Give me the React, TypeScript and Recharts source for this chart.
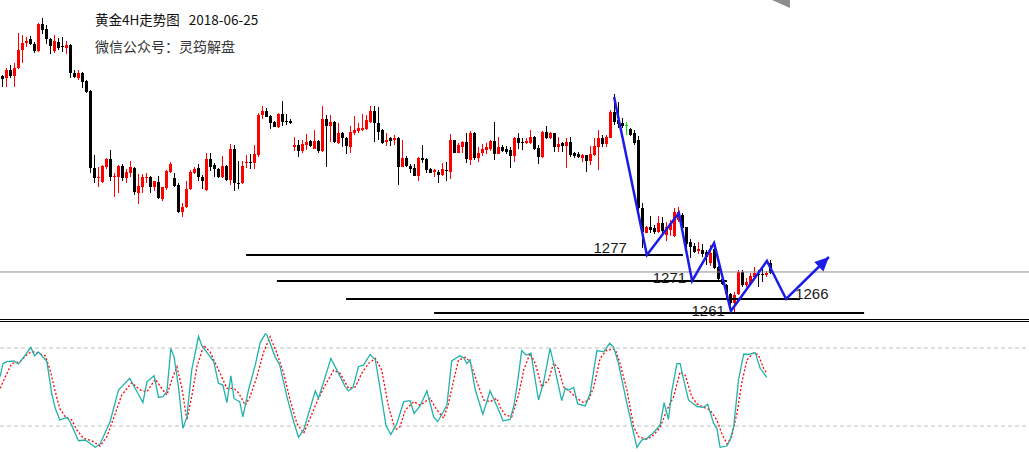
import React from 'react';
import { ComposedChart, LineChart, Bar, Line, XAxis, YAxis, ReferenceLine, ReferenceDot } from 'recharts';

// ---------- candle data (4H gold) ----------
const candleOpen = [
  1313.1, 1312.6, 1314.4, 1313.2, 1314.8, 1319.0, 1320.4, 1321.3, 1320.2, 1318.7,
  1324.7, 1323.5, 1321.3, 1318.7, 1320.7, 1319.8, 1319.4, 1320.0, 1313.8, 1312.6,
  1313.8, 1312.0, 1309.8, 1292.6, 1290.4, 1289.6, 1292.8, 1294.6, 1290.7, 1290.7,
  1293.1, 1290.4, 1291.5, 1292.6, 1287.2, 1288.5, 1290.4, 1290.7, 1288.4, 1289.6,
  1285.7, 1288.2, 1291.8, 1290.4, 1288.9, 1283.0, 1283.9, 1287.9, 1291.6, 1292.6,
  1290.6, 1287.8, 1294.6, 1293.3, 1292.4, 1290.7, 1293.1, 1290.0, 1297.0, 1289.4,
  1289.3, 1293.7, 1294.1, 1293.8, 1295.6, 1304.4, 1305.4, 1304.2, 1303.0, 1301.8,
  1304.7, 1303.2, 1303.2, 1297.3, 1297.8, 1296.5, 1297.8, 1298.7, 1297.0, 1298.7,
  1296.5, 1303.5, 1302.0, 1303.0, 1298.3, 1300.5, 1299.3, 1297.4, 1300.5, 1301.0,
  1301.1, 1301.3, 1303.0, 1305.4, 1302.6, 1301.1, 1298.5, 1299.3, 1299.0, 1299.3,
  1293.0, 1294.8, 1293.1, 1292.6, 1290.9, 1294.8, 1294.6, 1292.4, 1291.8, 1291.8,
  1291.1, 1292.2, 1291.8, 1298.9, 1296.1, 1297.4, 1298.5, 1294.4, 1300.5, 1294.8,
  1296.1, 1296.7, 1297.0, 1298.7, 1295.8, 1297.4, 1296.9, 1296.7, 1295.4, 1299.3,
  1298.5, 1298.2, 1298.2, 1299.6, 1297.2, 1295.2, 1300.7, 1299.4, 1300.4, 1297.4,
  1298.2, 1297.6, 1298.5, 1295.9, 1295.7, 1295.0, 1295.6, 1294.2, 1295.6, 1297.4,
  1299.4, 1297.9, 1299.4, 1305.1, 1303.3, 1302.6, 1302.3, 1301.3, 1300.4, 1298.9,
  1283.7, 1278.3, 1279.6, 1279.3, 1278.5, 1280.5, 1277.8, 1279.0, 1277.6, 1281.1,
  1282.2, 1279.5, 1276.3, 1275.3, 1274.3, 1274.4, 1274.1, 1271.5, 1274.6, 1270.7,
  1267.9, 1266.7, 1264.7, 1262.6, 1264.7, 1269.6, 1266.7, 1266.9, 1268.5, 1269.1,
  1269.1, 1268.9, 1271.6,
];
const candleHigh = [
  1313.3, 1314.8, 1315.6, 1316.1, 1322.7, 1322.2, 1321.8, 1322.0, 1320.7, 1325.0,
  1325.9, 1324.4, 1321.5, 1322.2, 1321.6, 1321.7, 1321.0, 1320.2, 1314.4, 1314.4,
  1314.1, 1312.2, 1310.0, 1295.6, 1292.8, 1293.3, 1294.8, 1296.7, 1291.5, 1293.3,
  1293.6, 1292.4, 1294.3, 1292.8, 1291.3, 1291.3, 1291.5, 1290.8, 1289.8, 1290.9,
  1288.5, 1292.2, 1294.1, 1291.5, 1289.3, 1285.0, 1289.8, 1292.2, 1292.8, 1293.6,
  1291.1, 1296.1, 1296.1, 1293.7, 1292.6, 1295.3, 1293.3, 1298.0, 1297.8, 1294.3,
  1294.3, 1295.6, 1295.8, 1297.8, 1305.0, 1306.4, 1305.9, 1304.4, 1303.2, 1304.8,
  1307.6, 1304.7, 1303.5, 1299.6, 1299.0, 1298.9, 1300.2, 1299.0, 1301.1, 1298.9,
  1306.4, 1304.4, 1304.4, 1303.1, 1302.6, 1300.6, 1299.6, 1302.0, 1304.2, 1302.6,
  1304.7, 1304.4, 1306.4, 1306.4, 1306.2, 1301.3, 1300.4, 1299.5, 1300.0, 1299.5,
  1298.9, 1295.3, 1293.6, 1293.6, 1295.2, 1297.8, 1294.8, 1292.6, 1292.4, 1292.2,
  1293.7, 1294.1, 1300.2, 1299.0, 1298.2, 1298.7, 1300.4, 1301.0, 1300.7, 1297.4,
  1298.0, 1298.2, 1298.9, 1303.0, 1299.6, 1297.8, 1297.6, 1297.4, 1299.6, 1300.4,
  1299.3, 1299.3, 1301.1, 1299.8, 1297.8, 1300.9, 1302.1, 1300.6, 1300.5, 1299.6,
  1298.4, 1299.3, 1299.6, 1296.2, 1296.2, 1295.7, 1295.6, 1297.6, 1299.3, 1301.1,
  1300.0, 1300.0, 1305.6, 1309.1, 1307.4, 1303.7, 1302.8, 1301.5, 1301.1, 1299.8,
  1284.8, 1279.8, 1282.0, 1280.0, 1282.0, 1281.7, 1280.7, 1281.1, 1283.7, 1283.9,
  1282.6, 1279.6, 1277.0, 1276.1, 1276.3, 1275.8, 1274.4, 1275.6, 1275.2, 1270.9,
  1268.2, 1267.0, 1265.0, 1265.2, 1270.0, 1270.0, 1268.2, 1269.4, 1270.6, 1270.0,
  1270.2, 1269.8, 1272.2,
];
const candleLow = [
  1310.7, 1310.7, 1312.6, 1310.6, 1314.6, 1315.9, 1319.6, 1319.9, 1318.3, 1318.5,
  1322.4, 1320.2, 1318.0, 1318.3, 1319.0, 1318.5, 1317.9, 1312.7, 1312.7, 1312.2,
  1310.4, 1309.3, 1291.6, 1289.3, 1288.4, 1289.4, 1292.4, 1289.8, 1286.2, 1287.2,
  1289.8, 1289.3, 1290.6, 1286.7, 1284.7, 1287.2, 1289.4, 1287.2, 1287.6, 1285.7,
  1285.4, 1287.8, 1291.6, 1288.4, 1282.6, 1281.7, 1283.7, 1287.8, 1291.3, 1289.8,
  1287.9, 1287.6, 1292.1, 1290.6, 1290.4, 1290.4, 1289.8, 1288.9, 1287.6, 1287.9,
  1289.1, 1292.6, 1292.4, 1292.4, 1295.2, 1303.5, 1303.9, 1301.3, 1301.7, 1301.5,
  1302.0, 1302.2, 1302.4, 1296.5, 1295.2, 1295.9, 1296.7, 1297.3, 1296.8, 1295.9,
  1296.3, 1292.8, 1298.5, 1298.3, 1298.0, 1297.3, 1295.8, 1296.1, 1300.0, 1300.4,
  1301.0, 1301.1, 1302.7, 1298.5, 1298.9, 1298.0, 1297.6, 1297.6, 1297.8, 1288.9,
  1292.8, 1292.8, 1291.6, 1290.9, 1289.8, 1293.7, 1291.6, 1291.5, 1290.6, 1289.4,
  1290.9, 1289.8, 1290.2, 1295.9, 1295.9, 1296.1, 1293.8, 1293.3, 1294.4, 1294.1,
  1295.3, 1295.8, 1296.5, 1294.4, 1295.7, 1296.2, 1295.7, 1292.7, 1293.9, 1297.0,
  1296.7, 1297.9, 1297.9, 1296.7, 1293.6, 1295.0, 1299.1, 1299.1, 1296.3, 1296.3,
  1296.3, 1292.7, 1295.2, 1294.8, 1294.8, 1294.1, 1291.7, 1293.3, 1295.4, 1292.2,
  1297.4, 1297.4, 1299.3, 1302.2, 1301.5, 1301.6, 1300.0, 1299.8, 1297.8, 1283.3,
  1275.0, 1278.2, 1278.3, 1278.0, 1278.2, 1278.3, 1276.5, 1277.6, 1277.4, 1280.7,
  1279.0, 1274.8, 1272.6, 1273.8, 1273.6, 1273.0, 1271.1, 1270.9, 1270.2, 1267.6,
  1266.7, 1263.3, 1262.2, 1260.7, 1264.4, 1266.3, 1266.3, 1266.7, 1267.9, 1266.3,
  1267.4, 1268.4, 1269.1,
];
const candleClose = [
  1312.4, 1314.4, 1313.2, 1315.0, 1318.9, 1320.4, 1321.0, 1320.2, 1318.7, 1324.7,
  1323.3, 1321.3, 1319.8, 1321.0, 1319.4, 1319.6, 1320.0, 1313.7, 1312.8, 1313.7,
  1311.8, 1309.6, 1292.6, 1290.4, 1290.7, 1293.1, 1294.6, 1290.7, 1290.9, 1293.1,
  1290.4, 1291.8, 1292.8, 1287.4, 1288.7, 1290.6, 1290.7, 1288.4, 1289.8, 1285.9,
  1288.5, 1292.1, 1293.6, 1288.7, 1283.0, 1284.1, 1287.9, 1291.8, 1292.4, 1290.6,
  1289.8, 1294.6, 1292.8, 1292.4, 1290.6, 1293.1, 1290.0, 1297.0, 1289.3, 1289.1,
  1293.1, 1294.1, 1293.8, 1295.8, 1304.4, 1305.4, 1304.1, 1302.7, 1301.8, 1304.7,
  1303.0, 1303.0, 1302.6, 1297.8, 1296.5, 1298.0, 1298.5, 1297.6, 1298.7, 1296.5,
  1303.5, 1302.0, 1302.8, 1298.5, 1300.5, 1299.3, 1297.6, 1300.7, 1301.1, 1301.5,
  1301.6, 1303.3, 1305.4, 1302.6, 1300.7, 1298.2, 1299.0, 1298.7, 1299.4, 1293.0,
  1294.8, 1293.1, 1292.5, 1290.9, 1294.8, 1294.4, 1292.2, 1291.6, 1292.2, 1291.1,
  1292.4, 1292.1, 1298.9, 1296.1, 1297.8, 1298.5, 1294.7, 1300.5, 1294.8, 1296.1,
  1296.8, 1297.4, 1298.7, 1295.8, 1297.4, 1296.4, 1296.3, 1295.4, 1299.3, 1298.2,
  1298.4, 1298.7, 1299.6, 1296.9, 1295.2, 1300.7, 1299.4, 1300.4, 1297.4, 1297.9,
  1297.6, 1298.5, 1295.6, 1295.4, 1295.2, 1295.6, 1294.2, 1295.7, 1297.6, 1299.4,
  1297.9, 1299.6, 1305.2, 1302.9, 1302.4, 1302.1, 1302.3, 1300.0, 1298.3, 1283.7,
  1278.5, 1279.5, 1279.0, 1278.5, 1280.5, 1278.7, 1279.6, 1280.5, 1283.0, 1283.0,
  1279.3, 1275.8, 1275.2, 1274.1, 1274.6, 1273.6, 1273.0, 1273.8, 1270.4, 1267.9,
  1266.9, 1264.7, 1262.6, 1264.4, 1269.6, 1266.7, 1267.4, 1268.7, 1269.4, 1268.9,
  1268.9, 1269.4, 1269.4,
];

// ---------- drawn analysis (zigzag path, support levels) ----------
const zigzagIdx = [152.9, 161.1, 169.1, 172.4, 177.9, 182.1, 191.1, 195.9, 206.6];
const zigzagPrice = [1308.44, 1273.33, 1282.67, 1267.56, 1276.0, 1260.89, 1272.0, 1263.56, 1272.89];

const levelLabels = ['1277', '1271', '1266', '1261'];
const levelPrice = [1273.33, 1267.56, 1263.56, 1260.44];
const levelFrom = [60.9, 68.6, 85.9, 107.9];
const levelTo = [170.1, 181.1, 199.4, 215.4];
const labelIdx = [156.1, 170.9, 206.5, 180.6];
const labelPrice = [1273.71, 1267.18, 1263.49, 1259.78];

const lastPrice = 1269.56;

// ---------- stochastic oscillator (index, value) ----------
const stochK: [number, number][] = [
  [-0.6, 58], [0.1, 68], [1.1, 69.5], [2.8, 70], [4.0, 67.7], [5.3, 73], [7.1, 80.5], [8.0, 74], [9.0, 77],
  [11.1, 69.5], [12.3, 45], [13.2, 33.6], [14.3, 24.6], [16.1, 26.7], [16.9, 23.3], [19.0, 8.7], [20.7, 9.2],
  [23.2, 3.6], [24.4, 6.2], [26.9, 23.3], [29.0, 47.7], [31.8, 56.7], [35.1, 38], [36.1, 54], [37.9, 58.7],
  [39.0, 42], [40.1, 42.6], [41.1, 46.4], [42.1, 79.7], [42.9, 73], [44.0, 50], [45.1, 18.2], [46.1, 27],
  [47.3, 63], [49.0, 89], [49.8, 82], [52.8, 69.5], [54.0, 52.8], [55.1, 51.5], [56.1, 38], [57.1, 58.5],
  [57.9, 41], [59.3, 38.7], [60.1, 27], [61.5, 47.7], [63.2, 67], [64.4, 84], [65.7, 90.8], [66.1, 90],
  [68.2, 73], [69.3, 67], [71.1, 42.6], [72.8, 23.3], [74.0, 11.3], [75.3, 17], [78.2, 47], [79.0, 41.3],
  [80.3, 54], [82.1, 72], [83.6, 63], [85.7, 50], [86.5, 47], [87.6, 49.5], [89.0, 65.6], [90.3, 67],
  [91.9, 75], [93.2, 71], [94.4, 49], [95.9, 20], [97.1, 13.6], [98.6, 22], [100.3, 38.7], [101.9, 39.5],
  [102.9, 29.7], [104.4, 35.4], [106.1, 47], [107.8, 27], [108.8, 23.3], [111.1, 36], [112.3, 70], [114.3, 74],
  [115.3, 72.5], [116.1, 68], [116.9, 71], [118.2, 47.7], [120.1, 29], [121.9, 47], [123.6, 35.4], [124.4, 29.7],
  [125.1, 24], [126.9, 25], [127.8, 35], [128.6, 50], [129.8, 78], [130.9, 74.6], [132.1, 76], [134.0, 40],
  [135.3, 54], [136.9, 79.7], [137.8, 68], [139.8, 39.5], [140.7, 49], [141.5, 47.7], [142.8, 49.7], [143.8, 37],
  [145.7, 35.4], [146.9, 45], [148.6, 78], [150.3, 77], [151.8, 83.6], [152.8, 80.5], [154.0, 68], [156.1, 37.4],
  [158.6, 3.6], [159.8, 9.2], [161.1, 10.5], [162.8, 15], [164.4, 20.8], [165.4, 38], [166.5, 25], [167.3, 46.4],
  [168.6, 68], [169.4, 68], [170.3, 55.4], [171.5, 40], [173.6, 35], [175.3, 34.4], [176.3, 36.7], [177.8, 22],
  [178.6, 18.2], [179.4, 3.6], [181.1, 4.6], [181.9, 9.2], [182.8, 19.5], [184.0, 55.4], [185.3, 75.4],
  [186.5, 75], [188.2, 76.4], [189.4, 64.4], [191.1, 57.4],
];
const stochD: [number, number][] = [
  [-0.6, 49], [1.1, 60.5], [2.3, 68], [4.4, 69.5], [6.5, 76], [7.8, 77], [9.0, 76], [10.7, 74], [11.9, 63],
  [13.2, 46.4], [14.3, 33.6], [15.7, 27], [17.3, 24.6], [18.6, 17], [20.2, 10.5], [22.3, 8.7], [24.4, 4.6],
  [26.1, 11.8], [28.2, 29.7], [29.8, 43.8], [32.3, 53.3], [34.4, 47.7], [36.1, 46.4], [38.2, 56], [39.8, 49],
  [41.1, 43.8], [42.3, 55.4], [43.6, 65.6], [44.8, 50], [46.1, 24.6], [47.3, 42.6], [48.6, 65.6], [50.3, 82],
  [51.9, 77], [54.4, 60.5], [56.1, 49], [57.8, 49], [59.0, 45.6], [60.7, 36], [61.9, 42.6], [63.6, 58],
  [65.3, 77], [66.9, 88.7], [68.6, 76], [70.3, 60.5], [71.9, 40], [73.6, 22], [75.3, 14.4], [76.9, 26],
  [79.0, 41.3], [80.7, 51.5], [82.8, 63], [84.4, 60.5], [86.5, 49], [88.2, 50], [89.8, 60.5], [91.5, 68],
  [93.2, 72], [94.8, 63], [96.5, 35], [98.2, 17], [99.4, 19.5], [100.7, 32.3], [102.8, 38.7], [104.4, 36],
  [106.9, 41.3], [108.6, 32.3], [110.3, 26], [111.5, 37.4], [112.8, 55.4], [114.0, 70.8], [115.7, 72.8],
  [116.9, 69.5], [118.6, 54], [120.3, 40], [121.9, 38.7], [123.6, 41.3], [124.4, 34.4], [125.7, 28.5],
  [127.3, 27], [129.0, 43.8], [130.3, 63], [131.9, 76], [133.2, 68], [134.8, 50], [136.5, 55.4], [137.8, 68.5],
  [139.0, 64], [140.3, 50], [141.9, 46.4], [143.6, 41.3], [145.3, 38], [146.5, 40], [147.8, 50], [149.4, 72],
  [151.1, 78.5], [153.2, 79], [154.4, 68], [156.1, 47.7], [157.8, 19.5], [159.0, 11.8], [161.1, 9.7],
  [162.8, 13], [164.4, 19], [166.1, 32.3], [167.8, 42.6], [169.4, 61.5], [170.7, 59], [172.3, 42.6],
  [173.6, 37], [175.3, 34.4], [176.9, 32.3], [178.6, 24.6], [179.8, 14.4], [181.1, 6.2], [182.3, 11.8],
  [183.6, 29.7], [184.8, 52.8], [186.1, 70.8], [187.8, 76.4], [189.0, 74.6], [190.3, 64], [191.1, 60.5],
];
const stochLevels = [80, 20];

// ---------- layout / style constants ----------
const W = 1029;
const MAIN_H = 318;
const STOCH_TOP = 322;
const STOCH_H = 130;
const X_DOMAIN: [number, number] = [-0.625, 256.625];
const PRICE_DOMAIN: [number, number] = [1330 - MAIN_H / 4.5, 1330];
const ZIG_COLOR = '#1c1ce8';
const ARROW_ANGLE = -44.3;

const candleRows = candleOpen.map((o, i) => ({
  i,
  o,
  h: candleHigh[i],
  l: candleLow[i],
  c: candleClose[i],
  range: [candleLow[i], candleHigh[i]],
}));
const zigzagRows = zigzagIdx.map((i, k) => ({ i, p: zigzagPrice[k] }));
const kRows = stochK.map(([i, v]) => ({ i, v }));
const dRows = stochD.map(([i, v]) => ({ i, v }));

const Candle = (props: any) => {
  const { x, y, width, height, payload } = props;
  if (x == null || y == null || !payload) return null;
  const { o, h, l, c } = payload;
  const cx = x + width / 2;
  const k = h - l > 0 ? height / (h - l) : 0;
  const yo = y + (h - o) * k;
  const yc = y + (h - c) * k;
  const top = Math.min(yo, yc);
  const bh = Math.max(Math.abs(yo - yc), 1);
  const color = c > o ? '#ff0000' : c < o ? '#000000' : '#00e000';
  return (
    <g shapeRendering="crispEdges">
      <rect x={cx - 0.5} y={y} width={1} height={Math.max(height, 1)} fill={color} />
      <rect x={cx - 1.5} y={top} width={3} height={bh} fill={color} />
    </g>
  );
};

const labelText = (text: string) => (p: any) => (
  <text
    x={p.cx}
    y={p.cy}
    textAnchor="end"
    fontFamily="'Liberation Sans', Arial, sans-serif"
    fontSize={15}
    fill="#1a1a1a"
  >
    {text}
  </text>
);

const ArrowHead = (p: any) => (
  <polygon
    points="0,0 -14,-6.5 -14,6.5"
    transform={`translate(${p.cx},${p.cy}) rotate(${ARROW_ANGLE})`}
    fill={ZIG_COLOR}
  />
);

export default function App() {
  return (
    <div
      style={{
        position: 'absolute',
        left: 0,
        top: 0,
        width: W,
        height: 452,
        background: '#ffffff',
        overflow: 'hidden',
      }}
    >
      <div style={{ position: 'absolute', left: 0, top: 0 }}>
        <ComposedChart width={W} height={MAIN_H} data={candleRows} margin={{ top: 0, right: 0, bottom: 0, left: 0 }}>
          <XAxis dataKey="i" type="number" domain={X_DOMAIN} allowDataOverflow hide />
          <YAxis type="number" domain={PRICE_DOMAIN} allowDataOverflow hide />
          <ReferenceLine y={lastPrice} stroke="#8c8c8c" strokeWidth={1} />
          {levelPrice.map((p, k) => (
            <ReferenceLine
              key={'lv' + k}
              segment={[{ x: levelFrom[k], y: p }, { x: levelTo[k], y: p }]}
              stroke="#000000"
              strokeWidth={2}
            />
          ))}
          <Bar dataKey="range" barSize={3} shape={Candle} isAnimationActive={false} />
          <Line
            data={zigzagRows}
            dataKey="p"
            stroke={ZIG_COLOR}
            strokeWidth={2.5}
            dot={false}
            activeDot={false}
            isAnimationActive={false}
          />
          <ReferenceDot
            x={zigzagIdx[zigzagIdx.length - 1]}
            y={zigzagPrice[zigzagPrice.length - 1]}
            shape={ArrowHead}
          />
          {levelLabels.map((t, k) => (
            <ReferenceDot key={'lb' + k} x={labelIdx[k]} y={labelPrice[k]} shape={labelText(t)} />
          ))}
        </ComposedChart>
      </div>

      <div style={{ position: 'absolute', left: 0, top: 319, width: W, height: 1, background: '#000' }} />
      <div style={{ position: 'absolute', left: 0, top: 321, width: W, height: 1, background: '#000' }} />

      <div style={{ position: 'absolute', left: 0, top: STOCH_TOP }}>
        <LineChart width={W} height={STOCH_H} margin={{ top: 0, right: 0, bottom: 0, left: 0 }}>
          <XAxis dataKey="i" type="number" domain={X_DOMAIN} allowDataOverflow hide />
          <YAxis type="number" domain={[0, 100]} allowDataOverflow hide />
          {stochLevels.map((v) => (
            <ReferenceLine key={'sl' + v} y={v} stroke="#c0c0c0" strokeDasharray="4 3" strokeWidth={1} />
          ))}
          <Line
            data={dRows}
            dataKey="v"
            stroke="#ff0000"
            strokeWidth={1.3}
            strokeDasharray="2 2"
            dot={false}
            activeDot={false}
            isAnimationActive={false}
          />
          <Line
            data={kRows}
            dataKey="v"
            stroke="#20b2aa"
            strokeWidth={1.3}
            dot={false}
            activeDot={false}
            isAnimationActive={false}
          />
        </LineChart>
      </div>

      <svg style={{ position: 'absolute', left: 0, top: 0 }} width={W} height={10}>
        <polygon points="772,0 790,0 790,8" fill="#8c8c8c" />
      </svg>

      <div
        style={{
          position: 'absolute',
          left: 95,
          top: 11,
          fontFamily: "'Noto Sans CJK SC', sans-serif",
          fontSize: 13.5,
          lineHeight: '16px',
          color: '#111',
          whiteSpace: 'nowrap',
        }}
      >
        <span>黄金4H走势图</span>
        <span style={{ marginLeft: 9 }}>2018-06-25</span>
      </div>
      <div
        style={{
          position: 'absolute',
          left: 95,
          top: 38,
          fontFamily: "'Noto Sans CJK SC', sans-serif",
          fontSize: 14,
          lineHeight: '17px',
          color: '#333',
          whiteSpace: 'nowrap',
        }}
      >
        微信公众号：灵筠解盘
      </div>
    </div>
  );
}
